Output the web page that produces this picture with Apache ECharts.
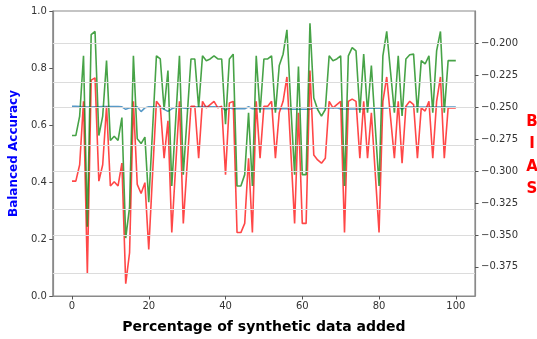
<!DOCTYPE html>
<html><head><meta charset="utf-8">
<script src="https://cdn.jsdelivr.net/npm/echarts@6/dist/echarts.min.js"></script>
<style>html,body{margin:0;padding:0;background:#fff}#c{width:537px;height:339px}</style>
</head><body><div id="c"></div>
<script>
const pctAdded = [0,1,2,3,4,5,6,7,8,9,10,11,12,13,14,15,16,17,18,19,20,21,22,23,24,25,26,27,28,29,30,31,32,33,34,35,36,37,38,39,40,41,42,43,44,45,46,47,48,49,50,51,52,53,54,55,56,57,58,59,60,61,62,63,64,65,66,67,68,69,70,71,72,73,74,75,76,77,78,79,80,81,82,83,84,85,86,87,88,89,90,91,92,93,94,95,96,97,98,99,100];

const balancedAccuracy = [0.666,0.666,0.665,0.664,0.663,0.663,0.664,0.664,0.665,0.665,0.665,0.665,0.665,0.664,0.655,0.660,0.662,0.664,0.647,0.660,
0.664,0.664,0.662,0.663,0.655,0.648,0.657,0.662,0.663,0.660,0.658,0.662,0.663,0.664,0.665,0.665,0.664,0.664,0.663,0.662,
0.652,0.660,0.657,0.657,0.657,0.657,0.664,0.657,0.657,0.657,0.657,0.657,0.657,0.657,0.657,0.657,0.657,0.655,0.655,0.655,
0.655,0.655,0.655,0.660,0.660,0.660,0.660,0.660,0.660,0.660,0.656,0.656,0.656,0.656,0.656,0.656,0.656,0.659,0.659,0.659,
0.659,0.659,0.659,0.663,0.663,0.663,0.656,0.663,0.663,0.663,0.663,0.663,0.663,0.663,0.663,0.663,0.663,0.663,0.663,0.663,0.663];

const biasRed = [-0.3078,-0.3078,-0.2950,-0.2453,-0.3804,-0.2287,-0.2269,-0.3078,-0.2950,-0.2491,
-0.3116,-0.3083,-0.3116,-0.2937,-0.3881,-0.3639,-0.2453,-0.3103,-0.3175,-0.3090,
-0.3613,-0.3020,-0.2453,-0.2491,-0.2899,-0.2606,-0.3481,-0.2965,-0.2453,-0.3409,
-0.2950,-0.2491,-0.2491,-0.2899,-0.2453,-0.2504,-0.2478,-0.2453,-0.2504,-0.2491,
-0.3027,-0.2466,-0.2453,-0.3481,-0.3481,-0.3409,-0.2899,-0.3481,-0.2453,-0.2899,
-0.2491,-0.2491,-0.2453,-0.2899,-0.2542,-0.2453,-0.2262,-0.2835,-0.3409,-0.2542,
-0.3409,-0.3409,-0.2211,-0.2874,-0.2912,-0.2937,-0.2899,-0.2453,-0.2504,-0.2478,
-0.2453,-0.3481,-0.2453,-0.2435,-0.2453,-0.2899,-0.2453,-0.2899,-0.2542,-0.3011,
-0.3481,-0.2453,-0.2262,-0.2580,-0.2899,-0.2453,-0.2937,-0.2491,-0.2453,-0.2478,
-0.2899,-0.2504,-0.2529,-0.2453,-0.2899,-0.2453,-0.2262,-0.2899,-0.2504,-0.2504,-0.2504];

const biasGreen = [-0.2721,-0.2721,-0.2568,-0.2096,-0.3435,-0.1930,-0.1905,-0.2721,-0.2568,-0.2134,
-0.2759,-0.2726,-0.2759,-0.2580,-0.3524,-0.3282,-0.2096,-0.2746,-0.2784,-0.2733,
-0.3243,-0.2670,-0.2096,-0.2121,-0.2517,-0.2211,-0.3116,-0.2606,-0.2096,-0.3027,
-0.2573,-0.2121,-0.2121,-0.2504,-0.2096,-0.2134,-0.2121,-0.2096,-0.2121,-0.2121,
-0.2631,-0.2121,-0.2083,-0.3116,-0.3116,-0.3027,-0.2542,-0.3116,-0.2096,-0.2542,
-0.2121,-0.2121,-0.2096,-0.2542,-0.2172,-0.2083,-0.1892,-0.2480,-0.3027,-0.2180,
-0.3027,-0.3027,-0.1841,-0.2427,-0.2517,-0.2568,-0.2517,-0.2096,-0.2134,-0.2121,
-0.2096,-0.3116,-0.2096,-0.2032,-0.2058,-0.2542,-0.2083,-0.2542,-0.2172,-0.2644,
-0.3116,-0.2096,-0.1905,-0.2223,-0.2542,-0.2096,-0.2568,-0.2121,-0.2088,-0.2083,
-0.2542,-0.2134,-0.2160,-0.2096,-0.2542,-0.2058,-0.1905,-0.2542,-0.2134,-0.2134,-0.2134];

const xTicks = [0,20,40,60,80,100];
const rightTicks = [-0.375,-0.35,-0.325,-0.3,-0.275,-0.25,-0.225,-0.2];

const pair = arr => pctAdded.map((x,i)=>[x,arr[i]]);
const tickFont = {fontFamily:'DejaVu Sans', fontSize:10, color:'#333'};
const chart = echarts.init(document.getElementById('c'), null, {renderer:'canvas'});
chart.setOption({
  animation:false,
  backgroundColor:'#fff',
  grid:{left:46,right:62,top:11,bottom:36,show:true,borderColor:'#8a8a8a',borderWidth:1.2,backgroundColor:'transparent'},
  xAxis:{type:'value',min:-5,max:105,
    name:'Percentage of synthetic data added',nameLocation:'middle',nameGap:24,
    nameTextStyle:{fontFamily:'DejaVu Sans',fontWeight:'bold',fontSize:14,color:'#000'},
    axisLine:{show:true,onZero:false,lineStyle:{color:'#8a8a8a',width:1.2}},
    axisTick:{show:true,length:3.5,lineStyle:{color:'#555'},customValues:xTicks},
    axisLabel:Object.assign({margin:5,customValues:xTicks,formatter:v=>String(v)},tickFont),
    splitLine:{show:false}},
  yAxis:[
    {type:'value',min:0,max:1,interval:0.2,position:'left',
     name:'Balanced Accuracy',nameLocation:'middle',nameGap:32,
     nameTextStyle:{fontFamily:'DejaVu Sans',fontWeight:'bold',fontSize:12,color:'#0000ff'},
     axisLine:{show:true,onZero:false,lineStyle:{color:'#8a8a8a',width:1.2}},
     axisTick:{show:true,length:3.5,lineStyle:{color:'#555'}},
     axisLabel:Object.assign({margin:6,formatter:v=>v.toFixed(1)},tickFont),
     splitLine:{show:false}},
    {type:'value',min:-0.3978,max:-0.1745,position:'right',
     axisLine:{show:true,onZero:false,lineStyle:{color:'#8a8a8a',width:1.2}},
     axisTick:{show:true,length:3.5,lineStyle:{color:'#555'},customValues:rightTicks},
     axisLabel:Object.assign({margin:6,customValues:rightTicks,formatter:v=>(v<0?'\u2212':'')+Math.abs(v).toFixed(3)},tickFont),
     splitLine:{show:false}}
  ],
  graphic:[{type:'text',x:532,y:155.5,style:{text:'B\nI\nA\nS',fill:'#ff0000',fontFamily:'DejaVu Sans',fontWeight:'bold',fontSize:15,lineHeight:22.5,align:'center',verticalAlign:'middle'}}],
  series:[
    {type:'line',yAxisIndex:0,data:pair(balancedAccuracy),showSymbol:false,symbol:'none',lineStyle:{color:'rgba(31,119,180,0.75)',width:1.5},z:2},
    {type:'line',yAxisIndex:1,data:pair(biasRed),showSymbol:false,symbol:'none',lineStyle:{color:'rgba(255,0,0,0.72)',width:1.6},z:3,
     markLine:{silent:true,symbol:['none','none'],label:{show:false},animation:false,
       lineStyle:{color:'#dcdcdc',width:1.2,type:'solid'},
       data:rightTicks.map(v=>({yAxis:v}))}},
    {type:'line',yAxisIndex:1,data:pair(biasGreen),showSymbol:false,symbol:'none',lineStyle:{color:'rgba(0,128,0,0.72)',width:1.6},z:4}
  ]
});
</script></body></html>
